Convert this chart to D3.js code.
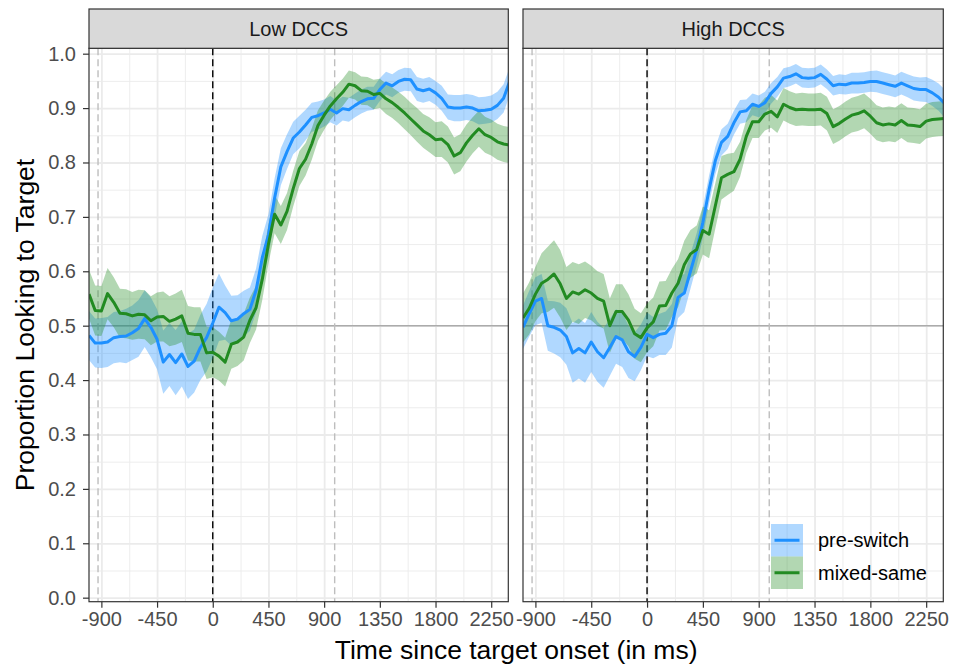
<!DOCTYPE html>
<html>
<head>
<meta charset="utf-8">
<script src="https://cdn.jsdelivr.net/npm/d3@7"></script>
<style>
  body { margin: 0; background: #fff; }
  svg { display: block; font-family: "Liberation Sans", Arial, sans-serif; }
</style>
</head>
<body>
<div id="chart"></div>
<script>
// time since target onset (ms), one sample every 50 ms
const times = [-1000, -950, -900, -850, -800, -750, -700, -650, -600, -550,
  -500, -450, -400, -350, -300, -250, -200, -150, -100, -50,
  0, 50, 100, 150, 200, 250, 300, 350, 400, 450,
  500, 550, 600, 650, 700, 750, 800, 850, 900, 950,
  1000, 1050, 1100, 1150, 1200, 1250, 1300, 1350, 1400, 1450,
  1500, 1550, 1600, 1650, 1700, 1750, 1800, 1850, 1900, 1950,
  2000, 2050, 2100, 2150, 2200, 2250, 2300, 2350, 2400];

// Low DCCS
const lowPre = [0.482, 0.468, 0.468, 0.470, 0.478, 0.480, 0.481, 0.487, 0.495, 0.513,
  0.497, 0.475, 0.433, 0.447, 0.432, 0.448, 0.425, 0.435, 0.460, 0.478,
  0.505, 0.534, 0.524, 0.509, 0.512, 0.522, 0.530, 0.565, 0.625, 0.667,
  0.735, 0.792, 0.820, 0.845, 0.856, 0.869, 0.883, 0.886, 0.891, 0.898,
  0.891, 0.899, 0.897, 0.905, 0.912, 0.917, 0.918, 0.934, 0.946, 0.941,
  0.949, 0.953, 0.952, 0.935, 0.932, 0.935, 0.928, 0.918, 0.902, 0.900,
  0.900, 0.902, 0.900, 0.895, 0.896, 0.898, 0.905, 0.918, 0.950];
const lowPreSe = [0.045, 0.045, 0.046, 0.046, 0.047, 0.047, 0.050, 0.050, 0.052, 0.052,
  0.055, 0.055, 0.058, 0.058, 0.060, 0.060, 0.060, 0.058, 0.060, 0.062,
  0.065, 0.062, 0.050, 0.046, 0.044, 0.042, 0.040, 0.040, 0.040, 0.038,
  0.036, 0.034, 0.032, 0.030, 0.030, 0.028, 0.027, 0.026, 0.025, 0.024,
  0.023, 0.022, 0.022, 0.022, 0.022, 0.022, 0.021, 0.021, 0.021, 0.021,
  0.021, 0.021, 0.021, 0.022, 0.022, 0.022, 0.022, 0.023, 0.023, 0.024,
  0.024, 0.024, 0.024, 0.025, 0.025, 0.025, 0.025, 0.026, 0.026];
const lowMix = [0.558, 0.528, 0.527, 0.559, 0.543, 0.523, 0.522, 0.518, 0.521, 0.520,
  0.509, 0.516, 0.517, 0.508, 0.512, 0.518, 0.486, 0.484, 0.484, 0.450,
  0.451, 0.444, 0.433, 0.466, 0.470, 0.479, 0.510, 0.533, 0.585, 0.650,
  0.705, 0.685, 0.710, 0.752, 0.789, 0.806, 0.834, 0.868, 0.887, 0.904,
  0.917, 0.929, 0.944, 0.941, 0.932, 0.931, 0.925, 0.927, 0.917, 0.910,
  0.901, 0.891, 0.880, 0.869, 0.858, 0.851, 0.842, 0.843, 0.833, 0.812,
  0.818, 0.836, 0.850, 0.862, 0.851, 0.846, 0.838, 0.834, 0.832];
const lowMixSe = [0.045, 0.046, 0.046, 0.047, 0.046, 0.045, 0.045, 0.044, 0.045, 0.045,
  0.045, 0.045, 0.046, 0.046, 0.047, 0.048, 0.050, 0.050, 0.050, 0.048,
  0.046, 0.045, 0.045, 0.045, 0.044, 0.043, 0.042, 0.040, 0.038, 0.036,
  0.035, 0.035, 0.034, 0.033, 0.032, 0.030, 0.029, 0.028, 0.027, 0.026,
  0.025, 0.025, 0.025, 0.025, 0.026, 0.026, 0.027, 0.027, 0.028, 0.028,
  0.029, 0.030, 0.030, 0.031, 0.031, 0.032, 0.032, 0.033, 0.033, 0.034,
  0.034, 0.034, 0.033, 0.033, 0.033, 0.033, 0.033, 0.033, 0.033];

// High DCCS
const highPre = [0.497, 0.522, 0.545, 0.550, 0.500, 0.497, 0.492, 0.480, 0.450, 0.458,
  0.450, 0.470, 0.452, 0.441, 0.460, 0.480, 0.474, 0.452, 0.443, 0.460,
  0.484, 0.478, 0.484, 0.486, 0.500, 0.552, 0.560, 0.600, 0.640, 0.690,
  0.750, 0.803, 0.837, 0.848, 0.873, 0.893, 0.895, 0.907, 0.903, 0.910,
  0.927, 0.939, 0.955, 0.958, 0.963, 0.956, 0.955, 0.956, 0.962, 0.953,
  0.941, 0.944, 0.943, 0.946, 0.946, 0.947, 0.949, 0.949, 0.946, 0.943,
  0.940, 0.946, 0.941, 0.936, 0.934, 0.934, 0.928, 0.920, 0.908];
const highPreSe = [0.040, 0.042, 0.044, 0.045, 0.046, 0.048, 0.050, 0.052, 0.055, 0.055,
  0.055, 0.055, 0.055, 0.055, 0.052, 0.050, 0.050, 0.048, 0.045, 0.042,
  0.040, 0.038, 0.038, 0.040, 0.040, 0.038, 0.035, 0.032, 0.030, 0.028,
  0.026, 0.025, 0.024, 0.023, 0.022, 0.022, 0.021, 0.020, 0.020, 0.020,
  0.019, 0.018, 0.018, 0.018, 0.018, 0.018, 0.018, 0.018, 0.018, 0.018,
  0.018, 0.018, 0.018, 0.019, 0.019, 0.019, 0.019, 0.020, 0.020, 0.020,
  0.020, 0.021, 0.021, 0.022, 0.022, 0.023, 0.024, 0.025, 0.026];
const highMix = [0.514, 0.532, 0.558, 0.578, 0.585, 0.595, 0.577, 0.550, 0.562, 0.558,
  0.566, 0.560, 0.550, 0.545, 0.500, 0.526, 0.526, 0.510, 0.485, 0.478,
  0.496, 0.507, 0.536, 0.537, 0.560, 0.578, 0.612, 0.632, 0.640, 0.675,
  0.668, 0.720, 0.772, 0.778, 0.783, 0.806, 0.848, 0.875, 0.875, 0.889,
  0.894, 0.884, 0.907, 0.901, 0.897, 0.898, 0.897, 0.897, 0.898, 0.890,
  0.866, 0.872, 0.880, 0.887, 0.890, 0.895, 0.885, 0.873, 0.869, 0.871,
  0.869, 0.877, 0.869, 0.868, 0.866, 0.876, 0.879, 0.880, 0.881];
const highMixSe = [0.045, 0.048, 0.050, 0.055, 0.060, 0.062, 0.062, 0.058, 0.055, 0.055,
  0.052, 0.050, 0.050, 0.050, 0.050, 0.050, 0.050, 0.048, 0.046, 0.045,
  0.045, 0.045, 0.045, 0.045, 0.044, 0.044, 0.044, 0.044, 0.044, 0.044,
  0.044, 0.042, 0.040, 0.038, 0.035, 0.032, 0.030, 0.030, 0.030, 0.030,
  0.030, 0.030, 0.030, 0.030, 0.030, 0.030, 0.030, 0.030, 0.030, 0.031,
  0.032, 0.032, 0.032, 0.032, 0.032, 0.032, 0.032, 0.032, 0.032, 0.032,
  0.032, 0.032, 0.032, 0.032, 0.032, 0.032, 0.032, 0.032, 0.032];

const facets = ['Low DCCS', 'High DCCS'];
const conditions = ['pre-switch', 'mixed-same'];
const colors = ['#1E90FF', '#228B22'];
const xTicks = [-900, -450, 0, 450, 900, 1350, 1800, 2250];
const xMinor = [-675, -225, 225, 675, 1125, 1575, 2025];
const yTicks = [0, 0.1, 0.2, 0.3, 0.4, 0.5, 0.6, 0.7, 0.8, 0.9, 1.0];
const yMinor = [0.05, 0.15, 0.25, 0.35, 0.45, 0.55, 0.65, 0.75, 0.85, 0.95];
const onsetLine = 0;
const windowLines = [-927, 985];
const chanceLine = 0.5;

const seriesByFacet = [
  [{ mean: lowPre, se: lowPreSe }, { mean: lowMix, se: lowMixSe }],
  [{ mean: highPre, se: highPreSe }, { mean: highMix, se: highMixSe }],
];

const width = 961;
const height = 667;
const panelTop = 48.3;
const panelBottom = 601.7;
const stripTop = 9;
const panelX = [[89, 508.3], [523, 943.3]];
const fontFamily = '"Liberation Sans", Arial, sans-serif';

const svg = d3.select('#chart')
  .append('svg')
  .attr('width', width)
  .attr('height', height);

const yScale = d3.scaleLinear()
  .domain([-0.0074, 1.0099])
  .range([panelBottom, panelTop]);

facets.forEach((facet, i) => {
  const [left, right] = panelX[i];
  const pw = right - left;
  const ph = panelBottom - panelTop;
  const xScale = d3.scaleLinear().domain([-1000, 2388]).range([left, right]);
  const g = svg.append('g').attr('class', 'panel');

  const clipId = 'clip' + i;
  svg.append('clipPath').attr('id', clipId)
    .append('rect')
    .attr('x', left).attr('y', panelTop)
    .attr('width', pw).attr('height', ph);

  // gridlines (minor then major)
  g.append('g')
    .attr('transform', `translate(${left},0)`)
    .call(d3.axisLeft(yScale).tickValues(yMinor).tickFormat('').tickSize(-pw))
    .call(s => s.select('.domain').remove())
    .selectAll('line').attr('stroke', '#EBEBEB').attr('stroke-width', 0.9);
  g.append('g')
    .attr('transform', `translate(0,${panelBottom})`)
    .call(d3.axisBottom(xScale).tickValues(xMinor).tickFormat('').tickSize(-ph))
    .call(s => s.select('.domain').remove())
    .selectAll('line').attr('stroke', '#EBEBEB').attr('stroke-width', 0.9);
  g.append('g')
    .attr('transform', `translate(${left},0)`)
    .call(d3.axisLeft(yScale).tickValues(yTicks).tickFormat('').tickSize(-pw))
    .call(s => s.select('.domain').remove())
    .selectAll('line').attr('stroke', '#EBEBEB').attr('stroke-width', 1.8);
  g.append('g')
    .attr('transform', `translate(0,${panelBottom})`)
    .call(d3.axisBottom(xScale).tickValues(xTicks).tickFormat('').tickSize(-ph))
    .call(s => s.select('.domain').remove())
    .selectAll('line').attr('stroke', '#EBEBEB').attr('stroke-width', 1.8);

  // reference lines
  g.append('line')
    .attr('x1', left).attr('x2', right)
    .attr('y1', yScale(chanceLine)).attr('y2', yScale(chanceLine))
    .attr('stroke', '#ABABAB').attr('stroke-width', 1.4);
  g.selectAll('line.window')
    .data(windowLines)
    .join('line')
    .attr('class', 'window')
    .attr('x1', d => xScale(d)).attr('x2', d => xScale(d))
    .attr('y1', panelTop).attr('y2', panelBottom)
    .attr('stroke', '#BEBEBE').attr('stroke-width', 1.4)
    .attr('stroke-dasharray', '7,4');
  g.append('line')
    .attr('x1', xScale(onsetLine)).attr('x2', xScale(onsetLine))
    .attr('y1', panelTop).attr('y2', panelBottom)
    .attr('stroke', '#000').attr('stroke-width', 1.4)
    .attr('stroke-dasharray', '7,4');

  const series = seriesByFacet[i];
  const area = d3.area()
    .x((d, j) => xScale(times[j]))
    .y0((d, j) => yScale(d.m - d.s))
    .y1((d, j) => yScale(d.m + d.s));
  const line = d3.line()
    .x((d, j) => xScale(times[j]))
    .y(d => yScale(d));

  const plot = g.append('g').attr('clip-path', `url(#${clipId})`);
  series.forEach((s, k) => {
    const pts = s.mean.map((m, j) => ({ m, s: s.se[j] }));
    plot.append('path')
      .attr('d', area(pts))
      .attr('fill', colors[k])
      .attr('fill-opacity', 0.35);
  });
  series.forEach((s, k) => {
    plot.append('path')
      .attr('d', line(s.mean))
      .attr('fill', 'none')
      .attr('stroke', colors[k])
      .attr('stroke-width', 3)
      .attr('stroke-linejoin', 'round');
  });

  // panel border
  g.append('rect')
    .attr('x', left).attr('y', panelTop)
    .attr('width', pw).attr('height', ph)
    .attr('fill', 'none').attr('stroke', '#333333').attr('stroke-width', 1.2);

  // strip
  g.append('rect')
    .attr('x', left).attr('y', stripTop)
    .attr('width', pw).attr('height', panelTop - stripTop)
    .attr('fill', '#D9D9D9').attr('stroke', '#333333').attr('stroke-width', 1.2);
  g.append('text')
    .attr('x', (left + right) / 2).attr('y', (stripTop + panelTop) / 2)
    .attr('text-anchor', 'middle').attr('dominant-baseline', 'central')
    .attr('font-size', 20).attr('fill', '#1A1A1A')
    .text(facet);

  // x axis
  const xAxis = g.append('g')
    .attr('transform', `translate(0,${panelBottom})`)
    .call(d3.axisBottom(xScale).tickValues(xTicks).tickFormat(d => String(d))
      .tickSize(6).tickPadding(4.5));
  xAxis.select('.domain').remove();
  xAxis.selectAll('line').attr('stroke', '#333333').attr('stroke-width', 1.2);
  xAxis.selectAll('text').attr('font-size', 20).attr('fill', '#4D4D4D')
    .attr('font-family', fontFamily);

  if (i === 0) {
    const yAxis = g.append('g')
      .attr('transform', `translate(${left},0)`)
      .call(d3.axisLeft(yScale).tickValues(yTicks).tickFormat(d3.format('.1f')).tickSize(6).tickPadding(7));
    yAxis.select('.domain').remove();
    yAxis.selectAll('line').attr('stroke', '#333333').attr('stroke-width', 1.2);
    yAxis.selectAll('text').attr('font-size', 20).attr('fill', '#4D4D4D')
      .attr('font-family', fontFamily);
  }
});

// legend inside the right panel
const legend = svg.append('g').attr('transform', 'translate(771,524)');
conditions.forEach((c, k) => {
  const row = legend.append('g').attr('transform', `translate(0,${k * 32.5})`);
  row.append('rect')
    .attr('width', 32).attr('height', 32.5)
    .attr('fill', colors[k]).attr('fill-opacity', 0.35);
  row.append('line')
    .attr('x1', 3.5).attr('x2', 28.5)
    .attr('y1', 16.25).attr('y2', 16.25)
    .attr('stroke', colors[k]).attr('stroke-width', 3);
  row.append('text')
    .attr('x', 47).attr('y', 16.25)
    .attr('dominant-baseline', 'central')
    .attr('font-size', 20).attr('fill', '#000')
    .text(c);
});

// axis titles
svg.append('text')
  .attr('x', (panelX[0][0] + panelX[1][1]) / 2).attr('y', 659)
  .attr('text-anchor', 'middle').attr('font-size', 26.5)
  .text('Time since target onset (in ms)');
svg.append('text')
  .attr('transform', `translate(34,${(panelTop + panelBottom) / 2}) rotate(-90)`)
  .attr('text-anchor', 'middle').attr('font-size', 26.5)
  .text('Proportion Looking to Target');
</script>
</body>
</html>
